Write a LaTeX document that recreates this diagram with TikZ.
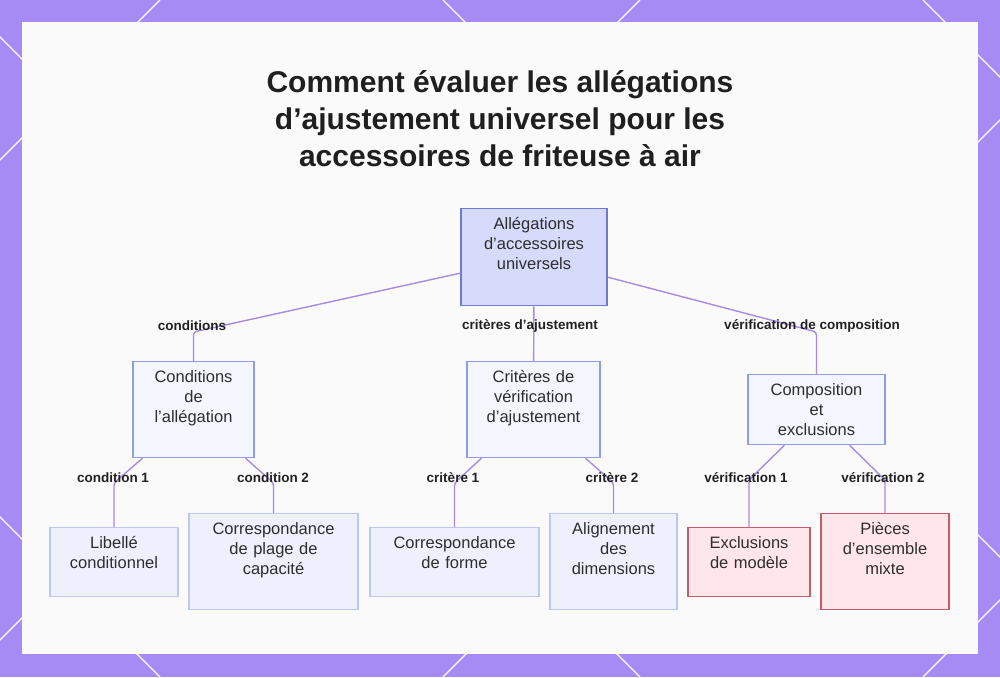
\documentclass[tikz,border=0pt]{standalone}
\usepackage{fontspec}
\setmainfont{Liberation Sans}

\definecolor{bgviolet}{HTML}{A78BF5}
\definecolor{panel}{HTML}{FAFAFA}
\definecolor{edge}{HTML}{A68BDF}
\definecolor{ink}{HTML}{2E2E2E}
\definecolor{rootfill}{HTML}{D6DAFB}
\definecolor{rootline}{HTML}{6E7BD2}
\definecolor{midfill}{HTML}{F4F6FF}
\definecolor{midline}{HTML}{8E9DE4}
\definecolor{leaffill}{HTML}{EEF1FD}
\definecolor{leafline}{HTML}{BDC8F2}
\definecolor{redfill}{HTML}{FFE6EA}
\definecolor{redline}{HTML}{C75B69}

\tikzset{
    title/.style={align=center, text=black!88, font=\fontsize{30}{37}\selectfont\bfseries},
    box/.style={draw, line width=1.3pt, anchor=north, align=center, inner sep=0pt,
        text height=20.5pt, text=ink, font=\fontsize{16.5}{20}\selectfont},
    rootbox/.style={box, fill=rootfill, draw=rootline},
    midbox/.style={box, fill=midfill, draw=midline},
    leafbox/.style={box, fill=leaffill, draw=leafline},
    redbox/.style={box, fill=redfill, draw=redline},
    lowbox/.style={text depth=48.5pt},
    highbox/.style={text depth=75.5pt},
    link/.style={draw=edge, line width=1.4pt, rounded corners=3pt},
    lbl/.style={text=black!87, font=\fontsize{13.5}{16}\selectfont\bfseries}
}

\begin{document}
\begin{tikzpicture}[x=1pt, y=-1pt]
    \useasboundingbox (0,0) rectangle (1000,677);
    \fill[bgviolet] (0,0) rectangle (1000,677);
    \begin{scope}
        \clip (0,0) rectangle (1000,677);
        \foreach \c in {160,640,1120,1600} \draw[white, line width=1.3pt] (\c,0) -- (\c-677,677);
        \foreach \d in {-517,-37,443,923} \draw[white, line width=1.3pt] (\d,0) -- (\d+677,677);
    \end{scope}
    \fill[panel] (22,22) rectangle (978,654);

    \node[title] (heading) at (500,118.5) {Comment évaluer les allégations\\d’ajustement universel pour les\\accessoires de friteuse à air};

    \node[rootbox, text width=146pt, text depth=76.5pt] (claims) at (534,208) {Allégations\\d’accessoires\\universels};

    \node[midbox, highbox, text width=121pt] (cond) at (193.5,361) {Conditions\\de\\l’allégation};
    \node[midbox, highbox, text width=133pt] (crit) at (533.5,361) {Critères de\\vérification\\d’ajustement};
    \node[midbox, text width=137pt, text depth=49.5pt] (comp) at (816.5,374) {Composition\\et\\exclusions};

    \node[leafbox, lowbox, text width=128pt] (label) at (114,527) {Libellé\\conditionnel};
    \node[leafbox, highbox, text width=169pt] (range) at (273.5,513) {Correspondance\\de plage de\\capacité};
    \node[leafbox, lowbox, text width=169pt] (shape) at (454.5,527) {Correspondance\\de forme};
    \node[leafbox, highbox, text width=127pt] (dims) at (613.5,513) {Alignement\\des\\dimensions};
    \node[redbox, lowbox, text width=122pt] (excl) at (749,527) {Exclusions\\de modèle};
    \node[redbox, highbox, text width=128pt] (mixed) at (885,513) {Pièces\\d’ensemble\\mixte};

    \coordinate (k1) at (193.5,332);
    \coordinate (k2) at (816.5,332);
    \coordinate (k3) at (114,483);
    \coordinate (k4) at (273.5,483);
    \coordinate (k5) at (454.5,483);
    \coordinate (k6) at (613.5,483);
    \coordinate (k7) at (749,480);
    \coordinate (k8) at (885,480);

    %\foreach \i in {1,...,8} \fill[red] (k\i) circle (2pt);

    \draw[link] ([yshift=-16pt]claims.west) -- (k1) -- (cond);
    \draw[link] (claims) -- (crit);
    \draw[link] ([yshift=-20pt]claims.east) -- (k2) -- (comp);
    \draw[link] ([xshift=10pt]cond.south west) -- (k3) -- (label);
    \draw[link] ([xshift=-9pt]cond.south east) -- (k4) -- (range);
    \draw[link] ([xshift=15pt]crit.south west) -- (k5) -- (shape);
    \draw[link] ([xshift=-15pt]crit.south east) -- (k6) -- (dims);
    \draw[link] ([xshift=37pt]comp.south west) -- (k7) -- (excl);
    \draw[link] ([xshift=-36pt]comp.south east) -- (k8) -- (mixed);

    \node[lbl] (lcond) at (192,326) {conditions};
    \node[lbl] (lcrit) at (530,326) {critères d’ajustement};
    \node[lbl] (lcomp) at (812,326) {vérification de composition};
    \node[lbl] (lc1) at (113,478) {condition 1};
    \node[lbl] (lc2) at (273,478) {condition 2};
    \node[lbl] (lk1) at (453,478) {critère 1};
    \node[lbl] (lk2) at (612,478) {critère 2};
    \node[lbl] (lv1) at (746,478) {vérification 1};
    \node[lbl] (lv2) at (883,478) {vérification 2};
  \end{tikzpicture}
\end{document}
